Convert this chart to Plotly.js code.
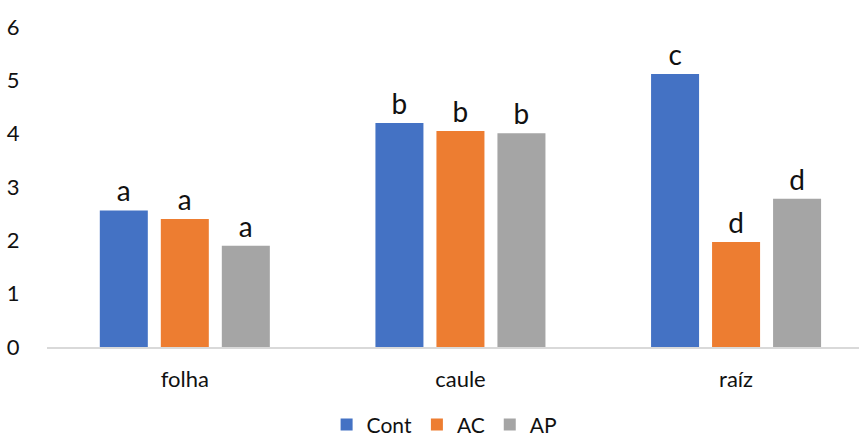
<!DOCTYPE html>
<html>
<head>
<meta charset="utf-8">
<script src="https://cdn.plot.ly/plotly-3.0.1.min.js"></script>
<style>
  html, body { margin: 0; padding: 0; background: #fff; }
  #chart { width: 859px; height: 437px; }
</style>
</head>
<body>
<div id="chart"></div>
<script>
// Tissue groups on the x axis
const categories = ['folha', 'caule', 'raíz'];

// Series names
const seriesNames = ['Cont', 'AC', 'AP'];

// Values per series (folha, caule, raíz)
const contValues = [2.56, 4.20, 5.12];
const acValues   = [2.40, 4.05, 1.97];
const apValues   = [1.90, 4.01, 2.78];

// Letters shown above each bar
const contLetters = ['a', 'b', 'c'];
const acLetters   = ['a', 'b', 'd'];
const apLetters   = ['a', 'b', 'd'];

const colors = ['#4472C4', '#ED7D31', '#A5A5A5'];
const seriesValues = [contValues, acValues, apValues];
const seriesLetters = [contLetters, acLetters, apLetters];

const fontFamily = 'Lato, "Open Sans", sans-serif';

const traces = seriesNames.map((name, i) => ({
  type: 'bar',
  name: name,
  x: categories,
  y: seriesValues[i],
  text: seriesLetters[i],
  textposition: 'outside',
  cliponaxis: false,
  textfont: { family: fontFamily, size: 28, color: '#111' },
  marker: { color: colors[i] },
  hoverinfo: 'skip'
}));

const layout = {
  width: 859,
  height: 437,
  margin: { l: 47, r: 0, t: 27, b: 90, autoexpand: false },
  paper_bgcolor: '#fff',
  plot_bgcolor: '#fff',
  barmode: 'group',
  bargap: 0.336,
  bargroupgap: 0.213,
  font: { family: fontFamily, size: 22, color: '#111' },
  showlegend: true,
  legend: {
    orientation: 'h',
    x: 0.517,
    xanchor: 'center',
    xref: 'container',
    y: 0.028,
    yanchor: 'middle',
    yref: 'container',
    tracegroupgap: 0,
    font: { family: fontFamily, size: 21, color: '#111' },
    itemclick: false,
    itemdoubleclick: false
  },
  xaxis: {
    type: 'category',
    categoryorder: 'array',
    categoryarray: categories,
    range: [-0.5, 2.446],
    automargin: false,
    showline: true,
    linecolor: '#d9d9d9',
    linewidth: 1.5,
    showgrid: false,
    zeroline: false,
    ticks: 'outside',
    ticklen: 12,
    tickcolor: 'rgba(0,0,0,0)',
    tickfont: { family: fontFamily, size: 22, color: '#111' }
  },
  yaxis: {
    range: [0, 6],
    dtick: 1,
    automargin: false,
    showgrid: false,
    zeroline: false,
    showline: false,
    ticks: 'outside',
    ticklen: 22,
    tickcolor: 'rgba(0,0,0,0)',
    tickfont: { family: fontFamily, size: 22, color: '#111' }
  }
};

Plotly.newPlot('chart', traces, layout, { staticPlot: true, displayModeBar: false });
</script>
</body>
</html>
